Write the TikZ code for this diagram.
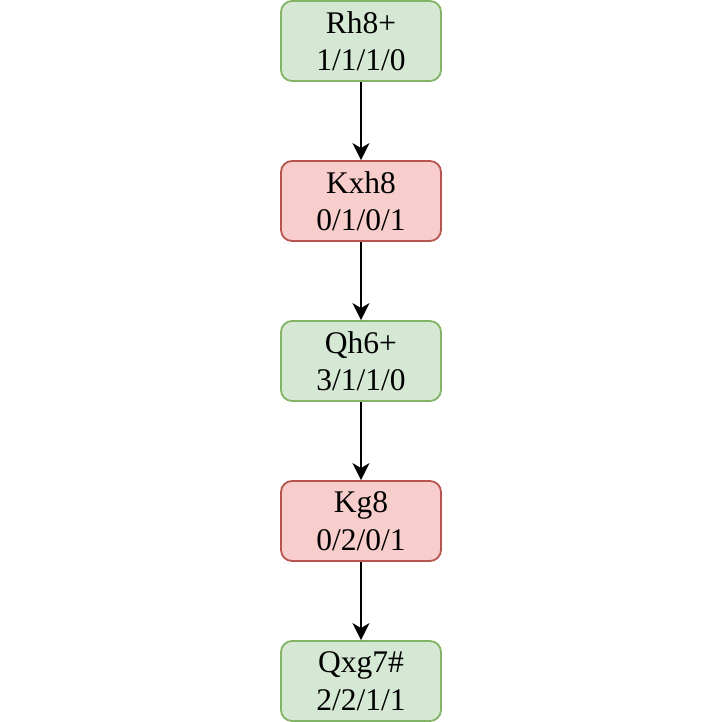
\documentclass[tikz,border=0pt]{standalone}
\usepackage{fontspec}
\newfontfamily\movefont{Liberation Serif}
\usetikzlibrary{arrows.meta}
\definecolor{goodfill}{HTML}{D5E8D4}
\definecolor{gooddraw}{HTML}{82B366}
\definecolor{badfill}{HTML}{F8CECC}
\definecolor{baddraw}{HTML}{B85450}
\tikzset{
  move/.style={rectangle,rounded corners=11pt,minimum width=160pt,minimum height=80pt,line width=1.8pt,align=center,inner sep=0pt,font=\movefont\fontsize{31.5}{37.5}\selectfont},
  white move/.style={move,fill=goodfill,draw=gooddraw},
  black move/.style={move,fill=badfill,draw=baddraw},
  link/.style={line width=2pt,-{Stealth[length=17pt,width=17pt,inset=5pt]}}
}
\begin{document}
\begin{tikzpicture}[x=1pt,y=1pt]
\useasboundingbox (0,0) rectangle (722,722);
\node[white move] (m1) at (361,681) {Rh8+\\1/1/1/0};
\node[black move] (m2) at (361,521) {Kxh8\\0/1/0/1};
\node[white move] (m3) at (361,361) {Qh6+\\3/1/1/0};
\node[black move] (m4) at (361,201) {Kg8\\0/2/0/1};
\node[white move] (m5) at (361,41) {Qxg7\#\\2/2/1/1};
\draw[link] (m1) -- (m2);
\draw[link] (m2) -- (m3);
\draw[link] (m3) -- (m4);
\draw[link] (m4) -- (m5);
\end{tikzpicture}
\end{document}
